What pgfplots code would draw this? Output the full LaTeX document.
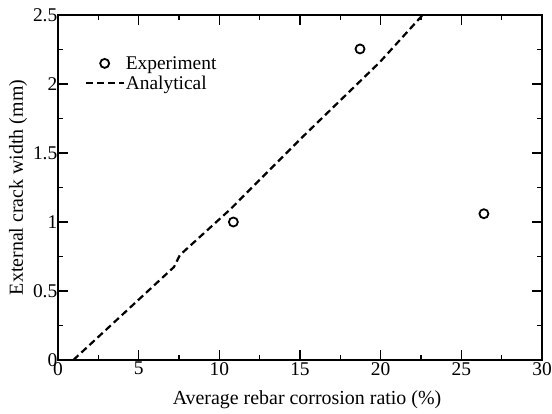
\documentclass[border=0pt]{standalone}
\usepackage{fontspec}
\setmainfont{Liberation Serif}
\usepackage{pgfplots}
\pgfplotsset{compat=1.18}
\pgfplotsset{
 expleg/.style={legend image code/.code={\draw[##1] plot coordinates {(19bp,0bp)};}},
 anleg/.style={legend image code/.code={\draw[##1] (0bp,0bp) -- (38bp,0bp);}},
}
\begin{document}
\begin{tikzpicture}
\begin{axis}[
 scale only axis, width=484bp, height=345bp,
 xmin=0, xmax=30, ymin=0, ymax=2.5,
 xtick={0,5,...,30}, ytick={0,0.5,1,1.5,2,2.5},
 minor x tick num=1, minor y tick num=1,
 tick align=inside, major tick length=10bp, minor tick length=5bp,
 axis line style={line width=1.3bp},
 every tick/.style={line width=1.3bp, black},
 /pgf/number format/assume math mode=true,
 tick label style={font=\fontsize{19.5}{19.5}\selectfont},
 yticklabel style={inner sep=0pt, xshift=-0.5bp},
 xticklabel style={inner sep=0pt, yshift=-2bp},
 xlabel={Average rebar corrosion ratio (\%)},
 ylabel={External crack width (mm)},
 label style={font=\fontsize{20}{20}\selectfont},
 xlabel style={at={(axis description cs:0.5,0)}, anchor=base, yshift=-44bp, xshift=7bp},
 ylabel style={at={(axis description cs:-0.0826,0.5)}, anchor=center},
 legend style={at={(rel axis cs:0.0545,0.884)}, anchor=north west, draw=none, fill=none,
   inner sep=0pt, row sep=3bp, font=\fontsize{19.5}{19.5}\selectfont,
   nodes={inner sep=1bp}},
 legend cell align=left,
]
\addplot[only marks, mark=o, mark size=4.5bp, line width=1.8bp, black, expleg]
  coordinates {(10.87,1.00) (18.72,2.254) (26.4,1.06)};
\addlegendentry{Experiment}
\addplot[black, line width=2.2bp, dash pattern=on 7bp off 4bp, anleg]
  coordinates {(0.95,0) (7.19,0.674) (7.56,0.761) (10.66,1.09) (15.19,1.62) (19.96,2.16) (22.6,2.5)};
\addlegendentry{Analytical}
\coordinate (sw) at (rel axis cs:0,0);
\coordinate (ne) at (rel axis cs:1,1);
\end{axis}
\pgfresetboundingbox
\path[use as bounding box] ([shift={(-58bp,-54bp)}]sw) rectangle ([shift={(10bp,15bp)}]ne);
\end{tikzpicture}
\end{document}
